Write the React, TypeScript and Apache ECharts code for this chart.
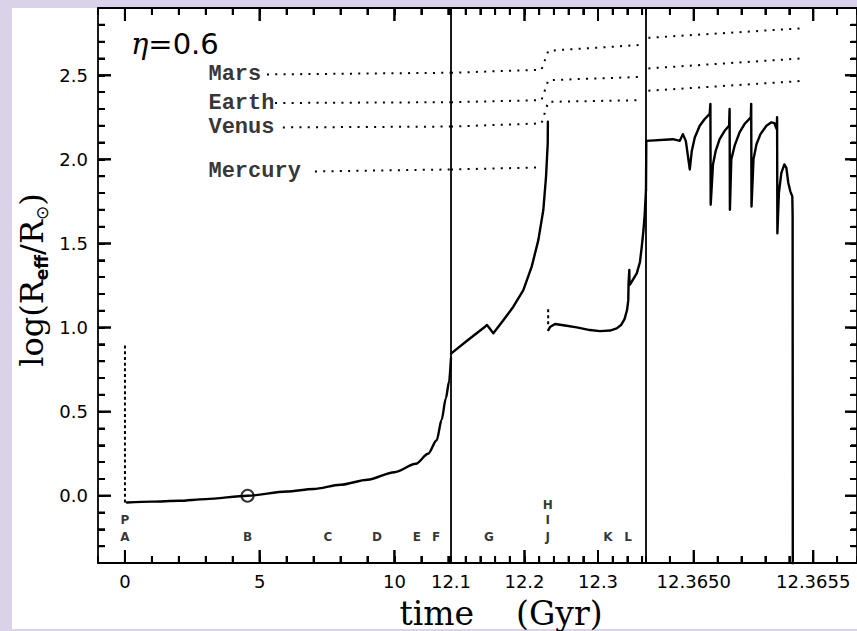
import React, { useEffect, useRef } from "react";
import * as echarts from "echarts";

// ---------- data ----------
// Panel 1: main sequence to RGB tip (Gyr)
const p1Time = [0.07, 1, 2, 3, 4.55, 6, 7, 8, 9, 10, 10.8, 11.25, 11.57, 11.75, 11.91, 12.03, 12.1];
const p1LogR = [-0.04, -0.035, -0.03, -0.02, 0.0, 0.025, 0.04, 0.065, 0.095, 0.14, 0.19, 0.25, 0.33, 0.45, 0.58, 0.68, 0.82];
const preMsTime = [0, 0];
const preMsLogR = [-0.04, 0.9];
const sunNow = [4.55, 0.0];

// Panel 2: RGB + horizontal branch + early AGB
const p2aTime = [12.1, 12.1231, 12.1463, 12.149, 12.1576, 12.1707, 12.1848, 12.1984, 12.2098, 12.2188, 12.2256, 12.2293, 12.2316, 12.2318];
const p2aLogR = [0.845, 0.926, 1.005, 1.015, 0.966, 1.04, 1.124, 1.223, 1.362, 1.52, 1.699, 1.897, 2.095, 2.224];
const heFlashTime = [12.2322, 12.2322];
const heFlashLogR = [1.02, 1.12];
const p2bTime = [12.2324, 12.2347, 12.2415, 12.2551, 12.271, 12.2891, 12.3027, 12.3163, 12.3254, 12.3313, 12.3361, 12.3395, 12.3412, 12.3416, 12.3426, 12.3429, 12.3449, 12.3527, 12.3571, 12.3595, 12.3619, 12.3635, 12.3653];
const p2bLogR = [0.985, 1.003, 1.021, 1.012, 1.001, 0.985, 0.979, 0.982, 0.995, 1.015, 1.05, 1.104, 1.163, 1.265, 1.342, 1.253, 1.265, 1.322, 1.39, 1.48, 1.58, 1.67, 1.82];

// Panel 3: TP-AGB
const p3Time = [12.3648, 12.3648013, 12.3649125, 12.3649417, 12.3649542, 12.3649667, 12.3649833, 12.3649917, 12.3650042, 12.365025,
  12.3650458, 12.3650667, 12.3650696, 12.3650708, 12.3650804, 12.3650917, 12.3651083, 12.3651292, 12.3651479, 12.36515,
  12.3651513, 12.3651571, 12.3651708, 12.3651917, 12.3652125, 12.3652388, 12.3652404, 12.3652417, 12.36525, 12.3652625,
  12.3652792, 12.3653042, 12.365325, 12.3653375, 12.3653471, 12.3653488, 12.36535, 12.3653563, 12.3653667, 12.3653792,
  12.3653875, 12.3653958, 12.3654042, 12.3654125, 12.3654138, 12.3654146];
const p3LogR = [1.82, 2.11, 2.12, 2.11, 2.15, 2.11, 1.94, 2.05, 2.13, 2.2,
  2.24, 2.27, 2.33, 1.73, 1.97, 2.05, 2.12, 2.17, 2.2, 2.3,
  1.7, 2.0, 2.08, 2.16, 2.21, 2.25, 2.33, 1.72, 2.0, 2.09,
  2.15, 2.2, 2.22, 2.215, 2.18, 2.25, 1.56, 1.8, 1.92, 1.97,
  1.95, 1.86, 1.81, 1.78, 1.67, -0.62];

// Planet orbits
const planetNames = ["Mars", "Earth", "Venus", "Mercury"];
const planetLabelTime = 3.08;
const planetP1Time = [[5.27, 12.1], [5.57, 12.1], [5.86, 12.1], [7.05, 12.1]];
const planetP1LogR = [[2.505, 2.515], [2.335, 2.34], [2.19, 2.195], [1.928, 1.94]];
const planetP2Time = [[12.1, 12.2231, 12.2324, 12.3571], [12.1, 12.2231, 12.2324, 12.3571], [12.1, 12.2231, 12.2324, 12.3571], [12.1, 12.2236]];
const planetP2LogR = [[2.515, 2.533, 2.646, 2.68], [2.34, 2.352, 2.471, 2.49], [2.195, 2.214, 2.342, 2.352], [1.94, 1.952]];
const planetP3Time = [[12.36481, 12.36545], [12.36481, 12.36545], [12.36481, 12.36545]];
const planetP3LogR = [[2.723, 2.779], [2.541, 2.6], [2.408, 2.466]];

// Phase letters
const lettersP1 = ["P", "A", "B", "C", "D", "E", "F"];
const lettersP1Time = [0, 0, 4.55, 7.53, 9.35, 10.83, 11.55];
const lettersP1Row = [-0.145, -0.245, -0.245, -0.245, -0.245, -0.245, -0.245];
const lettersP2 = ["G", "H", "I", "J", "K", "L"];
const lettersP2Time = [12.1517, 12.2316, 12.2316, 12.2316, 12.3136, 12.3408];
const lettersP2Row = [-0.245, -0.055, -0.145, -0.245, -0.245, -0.245];

// Ticks and tick labels
const p1MajorTicks = [0, 5, 10];
const p1MinorTicks = [1, 2, 3, 4, 6, 7, 8, 9, 11, 12];
const p2MajorTicks = [12.2, 12.3];
const p2MinorTicks = [12.12, 12.14, 12.16, 12.18, 12.22, 12.24, 12.26, 12.28, 12.32, 12.34, 12.36];
const p2Labels = [12.1, 12.2, 12.3];
const p3MajorTicks = [12.365, 12.3655];
const p3MinorTicks = [12.3649, 12.3651, 12.3652, 12.3653, 12.3654, 12.3656];
const yMajorTicks = [0, 0.5, 1, 1.5, 2, 2.5];
const yMinorTicks = [-0.3, -0.2, -0.1, 0.1, 0.2, 0.3, 0.4, 0.6, 0.7, 0.8, 0.9, 1.1, 1.2, 1.3, 1.4, 1.6, 1.7, 1.8, 1.9,
  2.1, 2.2, 2.3, 2.4, 2.6, 2.7, 2.8];
// minor tick spacing of each axis (axis min is a multiple of it)
const p1TickStep = 1;
const p2TickStep = 0.02;
const p3TickStep = 0.0001;
const yTickStep = 0.1;

const zip = (a: number[], b: number[]) => a.map((v, i) => [v, b[i]]);

const BLACK = "#000";
const LAV = "#d9d2e8";
const Y_MIN = -0.4;
const Y_MAX = 2.9;
const P1 = [-1, 12.1];
const P2 = [12.1, 12.3653];
const P3 = [12.3648, 12.3648 + 212 / 240000];
const GRID_H = 555;
const GRID_W = [353, 195, 212];
const pxPerY = GRID_H / (Y_MAX - Y_MIN);
const pxPerX = [GRID_W[0] / (P1[1] - P1[0]), GRID_W[1] / (P2[1] - P2[0]), GRID_W[2] / (P3[1] - P3[0])];
const TICK_W = 2;

function xAx(grid: number, range: number[], step: number, pos: string, labels?: number[], fmt?: (v: number) => string): any {
  return {
    type: "value", gridIndex: grid, position: pos, min: range[0], max: range[1], interval: step,
    splitLine: { show: false },
    axisLine: { show: true, onZero: false, lineStyle: { color: BLACK, width: 1.8 } },
    axisTick: { show: true, inside: true, length: 7, lineStyle: { color: BLACK, width: TICK_W } },
    axisLabel: labels
      ? { show: true, customValues: labels, formatter: fmt, margin: 9, fontFamily: "DejaVu Sans", fontSize: 18, color: BLACK }
      : { show: false },
  };
}
function yAx(grid: number, pos: string, withTicks: boolean, labels?: number[]): any {
  return {
    type: "value", gridIndex: grid, position: pos, min: Y_MIN, max: Y_MAX, interval: yTickStep,
    splitLine: { show: false },
    axisLine: { show: true, onZero: false, lineStyle: { color: BLACK, width: 1.8 } },
    axisTick: { show: withTicks, inside: true, length: 7, lineStyle: { color: BLACK, width: TICK_W } },
    axisLabel: labels
      ? { show: true, customValues: labels, formatter: (v: number) => v.toFixed(1), margin: 10, fontFamily: "DejaVu Sans", fontSize: 18, color: BLACK }
      : { show: false },
  };
}

// tick marks as short line segments separated by gaps, placed through the axes' scales
function tickLines(data: any[], xi: number, yi: number): any {
  return { type: "line", data, xAxisIndex: xi, yAxisIndex: yi, symbol: "none", lineStyle: { color: BLACK, width: TICK_W } };
}
function xTicks(ticks: number[], lenPx: number, xi: number, yi: number): any {
  const d = lenPx / pxPerY;
  const data: any[] = [];
  ticks.forEach((t) => {
    data.push([t, Y_MIN], [t, Y_MIN + d], [t, null]);
    data.push([t, Y_MAX], [t, Y_MAX - d], [t, null]);
  });
  return tickLines(data, xi, yi);
}
function yTicks(ticks: number[], lenPx: number, xi: number, yi: number, xAt: number, dir: number, panel: number): any {
  const d = (dir * lenPx) / pxPerX[panel];
  const data: any[] = [];
  ticks.forEach((v) => {
    data.push([xAt, v], [xAt + d, v], [xAt, null]);
  });
  return tickLines(data, xi, yi);
}

const curveStyle = { color: BLACK, width: 2.4, join: "round", cap: "round" };
const orbitStyle = { color: BLACK, width: 2, type: [2, 6.3], cap: "butt" };

function line(data: number[][], xi: number, yi: number, style: any, smooth = 0): any {
  return {
    type: "line", data, xAxisIndex: xi, yAxisIndex: yi, symbol: "none", showSymbol: false,
    lineStyle: style, silent: true, z: 3, smooth, smoothMonotone: smooth ? "x" : undefined,
  };
}

function letterSeries(names: string[], times: number[], rows: number[], xi: number, yi: number): any {
  return {
    type: "scatter", xAxisIndex: xi, yAxisIndex: yi, symbolSize: 1, silent: true,
    itemStyle: { color: "transparent" },
    data: names.map((n, i) => ({ name: n, value: [times[i], rows[i]] })),
    label: { show: true, position: "inside", formatter: (p: any) => p.name, fontFamily: "DejaVu Sans", fontWeight: "bold", fontSize: 12, color: BLACK },
  };
}

export default function App() {
  const ref = useRef<HTMLDivElement>(null);
  useEffect(() => {
    if (!ref.current) return;
    const chart = echarts.init(ref.current, undefined, { renderer: "svg" });

    const X1 = 0, X2 = 2, X3 = 4;
    const Y1 = 0, Y2 = 1, Y3 = 2;

    const series: any[] = [];
    // major + minor ticks
    series.push(xTicks(p1MinorTicks, 7, X1, Y1), xTicks(p1MajorTicks, 13, X1, Y1));
    series.push(xTicks(p2MinorTicks, 7, X2, Y2), xTicks(p2MajorTicks, 13, X2, Y2));
    series.push(xTicks(p3MinorTicks, 7, X3, Y3), xTicks(p3MajorTicks, 13, X3, Y3));
    series.push(yTicks(yMinorTicks, 7, X1, Y1, P1[0], 1, 0), yTicks(yMajorTicks, 13, X1, Y1, P1[0], 1, 0));
    series.push(yTicks(yMinorTicks, 6, X3, Y3, P3[1], -1, 2), yTicks(yMajorTicks, 12, X3, Y3, P3[1], -1, 2));
    // panel 1
    series.push(line(zip(p1Time, p1LogR), X1, Y1, curveStyle, 0.3));
    series.push(line(zip(preMsTime, preMsLogR), X1, Y1, { color: BLACK, width: 2, type: [3, 2.7] }));
    series.push({
      type: "scatter", xAxisIndex: X1, yAxisIndex: Y1, data: [sunNow], symbol: "circle", symbolSize: 12, silent: true, z: 4,
      itemStyle: { color: "rgba(0,0,0,0)", borderColor: BLACK, borderWidth: 2 },
    });
    planetNames.forEach((name, i) => {
      series.push(line(zip(planetP1Time[i], planetP1LogR[i]), X1, Y1, orbitStyle));
      series.push(line(zip(planetP2Time[i], planetP2LogR[i]), X2, Y2, orbitStyle));
      if (planetP3Time[i]) series.push(line(zip(planetP3Time[i], planetP3LogR[i]), X3, Y3, orbitStyle));
    });
    series.push({
      type: "scatter", xAxisIndex: X1, yAxisIndex: Y1, symbolSize: 1, silent: true,
      itemStyle: { color: "transparent" },
      data: planetNames.map((name, i) => ({ name, value: [planetLabelTime, planetP1LogR[i][0]] })),
      label: { show: true, position: "right", distance: 0, formatter: (p: any) => p.name, fontFamily: "Liberation Mono", fontWeight: "bold", fontSize: 22, color: BLACK },
    });
    series.push(letterSeries(lettersP1, lettersP1Time, lettersP1Row, X1, Y1));
    // panel 2
    series.push(line(zip(p2aTime, p2aLogR), X2, Y2, curveStyle));
    series.push(line(zip(heFlashTime, heFlashLogR), X2, Y2, { color: BLACK, width: 2, type: [3, 3] }));
    series.push(line(zip(p2bTime, p2bLogR), X2, Y2, curveStyle));
    series.push(letterSeries(lettersP2, lettersP2Time, lettersP2Row, X2, Y2));
    // panel 3
    series.push(line(zip(p3Time, p3LogR), X3, Y3, curveStyle));

    const baseGraphic: any[] = [
      { type: "rect", shape: { x: 0, y: 0, width: 12, height: 631 }, style: { fill: LAV }, silent: true },
      { type: "rect", shape: { x: 0, y: 0, width: 857, height: 8 }, style: { fill: LAV }, silent: true },
      { type: "rect", shape: { x: 0, y: 629, width: 857, height: 2 }, style: { fill: LAV }, silent: true },
      {
        type: "text", x: 131, y: 44, silent: true,
        style: {
          text: "{e|η}{n|=0.6}", align: "left", verticalAlign: "middle", fill: BLACK,
          rich: {
            e: { fontFamily: "DejaVu Serif", fontStyle: "italic", fontSize: 29, fill: BLACK },
            n: { fontFamily: "DejaVu Sans", fontSize: 29, fill: BLACK },
          },
        },
      },
      {
        type: "text", x: 501, y: 613, silent: true,
        style: { text: "time    (Gyr)", align: "center", verticalAlign: "middle", fontFamily: "DejaVu Serif", fontSize: 33, fill: BLACK },
      },
      {
        type: "text", x: 32, y: 280, rotation: Math.PI / 2, silent: true,
        style: {
          text: "{m|log(R}{s|eff}{m|/R}{o|⊙}{m|)}", align: "center", verticalAlign: "middle", fill: BLACK,
          rich: {
            m: { fontFamily: "DejaVu Serif", fontSize: 32, lineHeight: 36, fill: BLACK },
            s: { fontFamily: "DejaVu Sans", fontWeight: "bold", fontSize: 17, lineHeight: 17, verticalAlign: "bottom", fill: BLACK },
            o: { fontFamily: "DejaVu Sans", fontSize: 17, lineHeight: 17, verticalAlign: "bottom", fill: BLACK },
          },
        },
      },
    ];

    const option: any = {
      animation: false,
      backgroundColor: "#ffffff",
      grid: [
        { left: 98, top: 8, width: GRID_W[0], height: GRID_H },
        { left: 451, top: 8, width: GRID_W[1], height: GRID_H },
        { left: 646, top: 8, width: GRID_W[2], height: GRID_H },
      ],
      xAxis: [
        xAx(0, P1, p1TickStep, "bottom", p1MajorTicks, (v: number) => String(v)),
        xAx(0, P1, p1TickStep, "top"),
        xAx(1, P2, p2TickStep, "bottom", p2Labels, (v: number) => v.toFixed(1)),
        xAx(1, P2, p2TickStep, "top"),
        xAx(2, P3, p3TickStep, "bottom", p3MajorTicks, (v: number) => v.toFixed(4)),
        xAx(2, P3, p3TickStep, "top"),
      ],
      yAxis: [
        yAx(0, "left", true, yMajorTicks),
        yAx(1, "left", false),
        yAx(2, "left", false),
        yAx(2, "right", true),
      ],
      series,
      graphic: baseGraphic,
    };
    chart.setOption(option);

    // extra: tick marks as graphic lines placed through convertToPixel
    try {
      const tickG: any[] = [];
      const seg = (x1: number, y1: number, x2: number, y2: number) =>
        tickG.push({ type: "line", shape: { x1, y1, x2, y2 }, style: { stroke: BLACK, lineWidth: TICK_W }, silent: true, z: 50 });
      const px = (xi: number, yi: number, v: number[]) => chart.convertToPixel({ xAxisIndex: xi, yAxisIndex: yi }, v) as any;
      const addX = (ticks: number[], len: number, xi: number, yi: number) => {
        ticks.forEach((t) => {
          const b = px(xi, yi, [t, Y_MIN]);
          const tp = px(xi, yi, [t, Y_MAX]);
          if (b && tp) {
            seg(b[0], b[1], b[0], b[1] - len);
            seg(tp[0], tp[1], tp[0], tp[1] + len);
          }
        });
      };
      const addY = (ticks: number[], len: number, xi: number, yi: number, xAt: number, dir: number) => {
        ticks.forEach((v) => {
          const p = px(xi, yi, [xAt, v]);
          if (p) seg(p[0], p[1], p[0] + dir * len, p[1]);
        });
      };
      addX(p1MajorTicks, 13, X1, Y1);
      addX(p2MajorTicks, 13, X2, Y2);
      addX(p3MajorTicks, 13, X3, Y3);
      addY(yMajorTicks, 13, X1, Y1, P1[0], 1);
      addY(yMajorTicks, 12, X3, Y3, P3[1], -1);
      if (tickG.length) chart.setOption({ graphic: [...baseGraphic, ...tickG] });
    } catch (e) {
      // keep the chart as drawn
    }

    return () => chart.dispose();
  }, []);
  return <div ref={ref} style={{ position: "fixed", left: 0, top: 0, width: 857, height: 631 }} />;
}
